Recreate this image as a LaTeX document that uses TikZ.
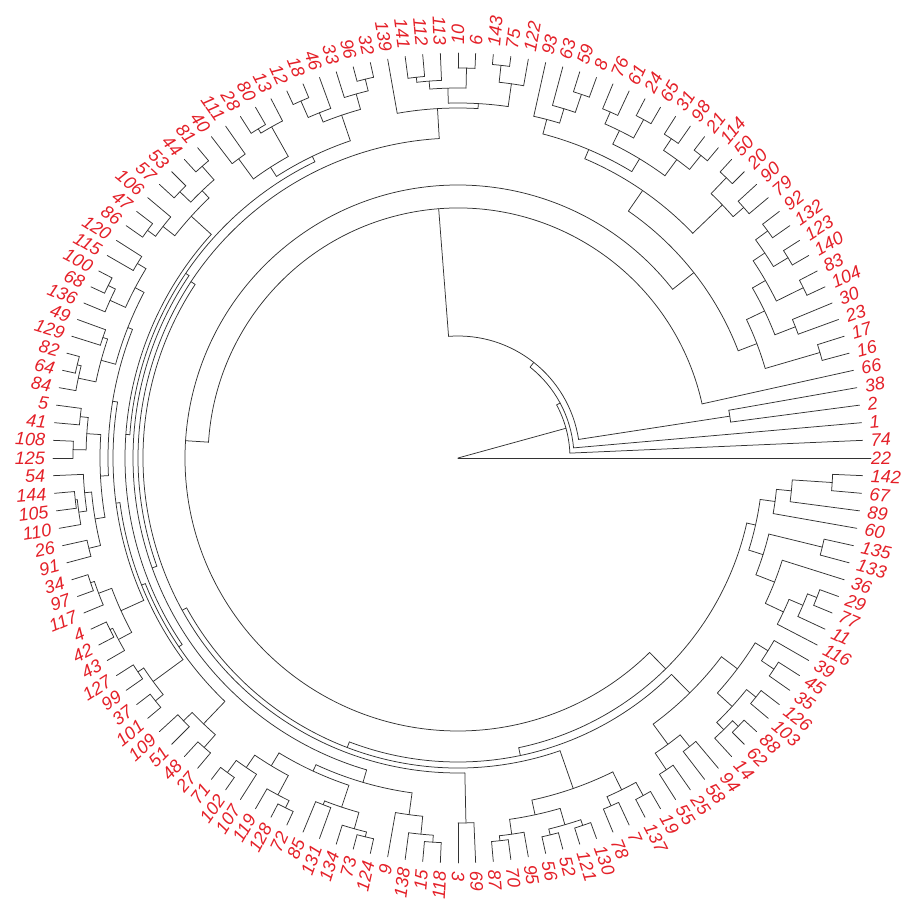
\documentclass[tikz,border=0pt]{standalone}
\usepackage{fontspec}
\setmainfont{Liberation Sans}
\definecolor{labred}{RGB}{228,32,40}
\definecolor{brgray}{RGB}{50,50,50}
\newcommand\LeafR{405}
\newcommand\LabR{413}
\newcommand\Lf[2]{%
  \pgfmathsetmacro\myang{2.5*#1}%
  \expandafter\xdef\csname dgA#2\endcsname{\myang}%
  \expandafter\xdef\csname dgR#2\endcsname{\LeafR}%
  \pgfmathtruncatemacro\myflag{(\myang>90 && \myang<270) ? 1 : 0}%
  \ifnum\myflag=1
    \pgfmathsetmacro\myrot{\myang-180}%
    \node[lab,anchor=east,rotate=\myrot] (t#2) at (\myang:\LabR pt) {#2};%
  \else
    \node[lab,anchor=west,rotate=\myang] (t#2) at (\myang:\LabR pt) {#2};%
  \fi
}
\newcommand\J[4]{%
  \edef\ja{\csname dgA#2\endcsname}%
  \edef\jb{\csname dgA#3\endcsname}%
  \edef\jra{\csname dgR#2\endcsname}%
  \edef\jrb{\csname dgR#3\endcsname}%
  \pgfmathsetmacro\jm{(\ja+\jb)/2}%
  \draw[br] (\ja:#4pt) arc[start angle=\ja, end angle=\jb, radius=#4pt];
  \draw[br] (\ja:#4pt) -- (\ja:\jra pt);
  \draw[br] (\jb:#4pt) -- (\jb:\jrb pt);
  \expandafter\xdef\csname dgA#1\endcsname{\jm}%
  \expandafter\xdef\csname dgR#1\endcsname{#4}%
  \coordinate (n#1) at (\jm:#4pt);
}
\begin{document}
\begin{tikzpicture}[
  lab/.style={text=labred, inner sep=0pt, font=\fontsize{18}{18}\selectfont\itshape},
  br/.style={draw=brgray, line width=0.75pt, line cap=round}]
\useasboundingbox (-458pt,-455pt) rectangle (452pt,458pt);
% leaves (index, label)
\Lf{0}{22}\Lf{1}{74}\Lf{2}{1}\Lf{3}{2}\Lf{4}{38}\Lf{5}{66}\Lf{6}{16}\Lf{7}{17}
\Lf{8}{23}\Lf{9}{30}\Lf{10}{104}\Lf{11}{83}\Lf{12}{140}\Lf{13}{123}\Lf{14}{132}
\Lf{15}{92}\Lf{16}{79}\Lf{17}{90}\Lf{18}{20}\Lf{19}{50}\Lf{20}{114}\Lf{21}{21}
\Lf{22}{98}\Lf{23}{31}\Lf{24}{65}\Lf{25}{24}\Lf{26}{61}\Lf{27}{76}\Lf{28}{8}
\Lf{29}{59}\Lf{30}{63}\Lf{31}{93}\Lf{32}{122}\Lf{33}{75}\Lf{34}{143}\Lf{35}{6}
\Lf{36}{10}\Lf{37}{113}\Lf{38}{112}\Lf{39}{141}\Lf{40}{139}\Lf{41}{32}\Lf{42}{96}
\Lf{43}{33}\Lf{44}{46}\Lf{45}{18}\Lf{46}{12}\Lf{47}{13}\Lf{48}{80}\Lf{49}{28}
\Lf{50}{111}\Lf{51}{40}\Lf{52}{81}\Lf{53}{44}\Lf{54}{53}\Lf{55}{57}\Lf{56}{106}
\Lf{57}{47}\Lf{58}{86}\Lf{59}{120}\Lf{60}{115}\Lf{61}{100}\Lf{62}{68}\Lf{63}{136}
\Lf{64}{49}\Lf{65}{129}\Lf{66}{82}\Lf{67}{64}\Lf{68}{84}\Lf{69}{5}\Lf{70}{41}
\Lf{71}{108}\Lf{72}{125}\Lf{73}{54}\Lf{74}{144}\Lf{75}{105}\Lf{76}{110}\Lf{77}{26}
\Lf{78}{91}\Lf{79}{34}\Lf{80}{97}\Lf{81}{117}\Lf{82}{4}\Lf{83}{42}\Lf{84}{43}
\Lf{85}{127}\Lf{86}{99}\Lf{87}{37}\Lf{88}{101}\Lf{89}{109}\Lf{90}{51}\Lf{91}{48}
\Lf{92}{27}\Lf{93}{71}\Lf{94}{102}\Lf{95}{107}\Lf{96}{119}\Lf{97}{128}\Lf{98}{72}
\Lf{99}{85}\Lf{100}{131}\Lf{101}{134}\Lf{102}{73}\Lf{103}{124}\Lf{104}{9}
\Lf{105}{138}\Lf{106}{15}\Lf{107}{118}\Lf{108}{3}\Lf{109}{69}\Lf{110}{87}
\Lf{111}{70}\Lf{112}{95}\Lf{113}{56}\Lf{114}{52}\Lf{115}{121}\Lf{116}{130}
\Lf{117}{78}\Lf{118}{7}\Lf{119}{137}\Lf{120}{19}\Lf{121}{55}\Lf{122}{25}
\Lf{123}{58}\Lf{124}{94}\Lf{125}{14}\Lf{126}{62}\Lf{127}{88}\Lf{128}{103}
\Lf{129}{126}\Lf{130}{35}\Lf{131}{45}\Lf{132}{39}\Lf{133}{116}\Lf{134}{11}
\Lf{135}{77}\Lf{136}{29}\Lf{137}{36}\Lf{138}{133}\Lf{139}{135}\Lf{140}{60}
\Lf{141}{89}\Lf{142}{67}\Lf{143}{142}
% right upper
\J{a1}{16}{17}{377}\J{a2}{23}{30}{362}\J{a3}{104}{83}{385}\J{a4}{140}{123}{386}
\J{a5}{132}{92}{384}\J{a8}{a4}{a5}{369}\J{a9}{a3}{a8}{355}\J{a10}{a2}{a9}{340}
\J{a11}{a1}{a10}{320}\J{a6}{79}{90}{380}\J{a7}{20}{50}{388}\J{a12}{a6}{a7}{366}
% top right
\J{b1}{114}{21}{388}\J{b2}{98}{31}{384}\J{b3}{65}{24}{386}\J{b4}{61}{76}{378}
\J{b5}{b1}{b2}{370}\J{b6}{b3}{b4}{365}\J{b7}{b5}{b6}{350}\J{b8}{8}{59}{384}
\J{b9}{b8}{63}{365}\J{b10}{b9}{93}{350}\J{b11}{b7}{b10}{335}\J{b12}{a12}{b11}{325}
\J{TT}{a11}{b12}{300}
% top
\J{b13}{75}{143}{395}\J{b14}{122}{b13}{378}\J{c1}{6}{10}{390}\J{c2}{112}{141}{383}
\J{c3}{113}{c2}{378}\J{c4}{c1}{c3}{370}\J{c5}{b14}{c4}{355}\J{c6}{c5}{139}{350}
% top left
\J{d1}{32}{96}{390}\J{d2}{d1}{33}{378}\J{d3}{18}{12}{390}\J{d4}{46}{d3}{372}
\J{d5}{d2}{d4}{362}\J{d6}{80}{28}{385}\J{d7}{13}{d6}{380}\J{d8}{111}{40}{371}
\J{d9}{d7}{d8}{346}\J{d10}{d5}{d9}{335}\J{d11}{81}{44}{388}\J{d12}{53}{57}{385}
\J{d13}{d11}{d12}{370}
% left upper
\J{e1}{47}{86}{385}\J{e2}{106}{e1}{375}\J{e3}{d13}{e2}{360}\J{e4}{120}{115}{375}
\J{e5}{100}{68}{390}\J{e6}{e5}{136}{382}\J{e7}{e4}{e6}{365}\J{e8}{49}{129}{375}
\J{e9}{82}{64}{392}\J{e10}{e9}{84}{388}\J{e11}{e8}{e10}{370}\J{e12}{e7}{e11}{355}
\J{e13}{5}{41}{380}\J{e14}{108}{125}{385}\J{e15}{e13}{e14}{372}
% left lower
\J{f1}{144}{105}{385}\J{f2}{f1}{110}{383}\J{f3}{54}{f2}{375}\J{f4}{26}{91}{380}
\J{f5}{f3}{f4}{368}\J{f6}{34}{97}{388}\J{f7}{f6}{117}{384}\J{f8}{4}{42}{388}
\J{f9}{f8}{43}{385}\J{f10}{f7}{f9}{370}\J{f11}{127}{99}{385}\J{f12}{37}{101}{388}
\J{f13}{f11}{f12}{378}\J{f14}{109}{51}{380}\J{f15}{48}{27}{385}\J{f16}{f14}{f15}{368}
% bottom left
\J{g1}{71}{102}{390}\J{g2}{g1}{107}{375}\J{g3}{128}{72}{390}\J{g4}{119}{g3}{382}
\J{g5}{g2}{g4}{360}\J{g6}{85}{131}{372}\J{g7}{73}{124}{390}\J{g8}{134}{g7}{385}
\J{g9}{g6}{g8}{368}\J{g10}{g5}{g9}{345}\J{g11}{15}{118}{385}\J{g12}{138}{g11}{378}
\J{g13}{9}{g12}{360}\J{g14}{g10}{g13}{338}
% bottom
\J{h1}{3}{69}{365}\J{h2}{87}{70}{385}\J{h3}{h2}{95}{380}\J{h4}{56}{52}{388}
\J{h5}{121}{130}{388}\J{h6}{h4}{h5}{382}\J{h7}{h3}{h6}{365}\J{h8}{78}{7}{380}
\J{h9}{137}{19}{385}\J{h10}{h8}{h9}{370}\J{h11}{h7}{h10}{350}\J{h12}{55}{25}{375}
\J{h13}{58}{94}{370}\J{hb}{h12}{h13}{355}
% right lower
\J{i1}{62}{88}{388}\J{i2}{14}{i1}{380}\J{i3}{103}{126}{382}\J{i4}{i2}{i3}{370}
\J{i5}{35}{45}{380}\J{i6}{i5}{39}{365}\J{i7}{i4}{i6}{350}\J{i8}{77}{29}{385}
\J{i9}{11}{i8}{375}\J{i10}{116}{i9}{360}\J{i11}{i10}{36}{340}\J{i17}{133}{135}{375}
\J{i12}{i11}{i17}{320}\J{i14}{67}{142}{375}\J{i15}{89}{i14}{335}\J{i16}{60}{i15}{320}
\J{i18}{i12}{i16}{305}
% backbone
\J{L1}{e15}{f5}{358}\J{L2}{e12}{L1}{350}\J{L3}{L2}{f10}{345}\J{L4}{L3}{f13}{341}
\J{L5}{L4}{f16}{337}\J{L6}{e3}{L5}{333}\J{L7}{d10}{L6}{329}\J{L8}{L7}{g14}{325}
\J{L9}{c6}{L8}{320}\J{L10}{L9}{h1}{315}\J{L11}{L10}{h11}{310}\J{hc}{hb}{i7}{330}
\J{L12}{L11}{hc}{304}\J{L13}{L12}{i18}{296}\J{X}{TT}{L13}{273}\J{M}{66}{X}{250}
\J{p238}{2}{38}{275}\J{T3}{p238}{M}{122}\J{T2}{1}{T3}{116}\J{T1}{74}{T2}{112}
% root
\coordinate (root) at (0,0);
\draw[br] (root) -- (t22.west);
\draw[br] (root) -- (nT1);
\end{tikzpicture}
\end{document}
